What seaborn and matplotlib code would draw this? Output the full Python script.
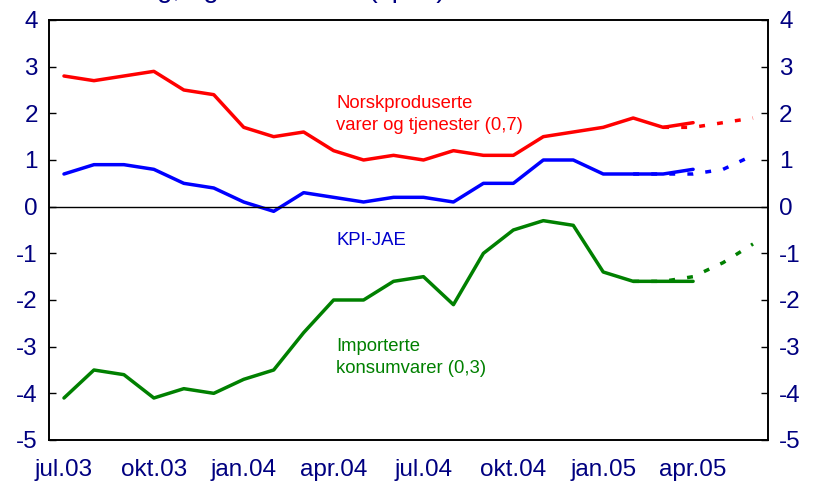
import matplotlib as mpl
mpl.use('Agg')

import matplotlib.pyplot as plt
import seaborn as sns
import numpy as np

sns.set_style("white")
plt.rcParams['font.family'] = ['Liberation Sans', 'DejaVu Sans']
plt.rcParams['axes.unicode_minus'] = False

# months on the category axis (jul.03 - jun.05)
months = ["jul.03", "aug.03", "sep.03", "okt.03", "nov.03", "des.03",
          "jan.04", "feb.04", "mar.04", "apr.04", "mai.04", "jun.04",
          "jul.04", "aug.04", "sep.04", "okt.04", "nov.04", "des.04",
          "jan.05", "feb.05", "mar.05", "apr.05", "mai.05", "jun.05"]
tick_labels = ["jul.03", "okt.03", "jan.04", "apr.04", "jul.04", "okt.04", "jan.05", "apr.05"]

# observed, jul.03 - apr.05
norsk = [2.8, 2.7, 2.8, 2.9, 2.5, 2.4, 1.7, 1.5, 1.6, 1.2, 1.0, 1.1,
         1.0, 1.2, 1.1, 1.1, 1.5, 1.6, 1.7, 1.9, 1.7, 1.8]
kpi_jae = [0.7, 0.9, 0.9, 0.8, 0.5, 0.4, 0.1, -0.1, 0.3, 0.2, 0.1, 0.2,
           0.2, 0.1, 0.5, 0.5, 1.0, 1.0, 0.7, 0.7, 0.7, 0.8]
import_ = [-4.1, -3.5, -3.6, -4.1, -3.9, -4.0, -3.7, -3.5, -2.7, -2.0, -2.0, -1.6,
           -1.5, -2.1, -1.0, -0.5, -0.3, -0.4, -1.4, -1.6, -1.6, -1.6]

# projections (dotted)
norsk_proj_months = ["mar.05", "apr.05", "mai.05", "jun.05"]
norsk_proj = [1.7, 1.7, 1.8, 1.9]
kpi_proj_months = ["feb.05", "mar.05", "apr.05", "mai.05", "jun.05"]
kpi_proj = [0.7, 0.7, 0.7, 0.8, 1.1]
import_proj_months = ["feb.05", "mar.05", "apr.05", "mai.05", "jun.05"]
import_proj = [-1.6, -1.6, -1.5, -1.2, -0.8]

navy = '#000080'
red, blue, green = '#FF0000', '#0000FF', '#008000'

pos = {m: i for i, m in enumerate(months)}

fig = plt.figure(figsize=(8.13, 4.92), dpi=100)
ax = fig.add_axes([49/813, 1 - 440/492, (768 - 49)/813, (440 - 20)/492])

lw = 2.5
dots = (0, (1.7, 3.5))

sns.lineplot(x=[pos[m] for m in months[:len(norsk)]], y=norsk, ax=ax, color=red, linewidth=lw)
sns.lineplot(x=[pos[m] for m in months[:len(kpi_jae)]], y=kpi_jae, ax=ax, color=blue, linewidth=lw)
sns.lineplot(x=[pos[m] for m in months[:len(import_)]], y=import_, ax=ax, color=green, linewidth=lw)
sns.lineplot(x=[pos[m] for m in norsk_proj_months], y=norsk_proj, ax=ax, color=red, linewidth=lw, linestyle=dots)
sns.lineplot(x=[pos[m] for m in kpi_proj_months], y=kpi_proj, ax=ax, color=blue, linewidth=lw, linestyle=dots)
sns.lineplot(x=[pos[m] for m in import_proj_months], y=import_proj, ax=ax, color=green, linewidth=lw, linestyle=dots)

ax.axhline(0, color='black', linewidth=1)

ax.set_xlim(-0.5, len(months) - 0.5)
ax.set_ylim(-5, 4)
ax.set_yticks(range(-5, 5))
ax.tick_params(axis='y', direction='in', length=5, width=1, colors='black',
               labelcolor=navy, labelsize=17.5, pad=8)

# ticks between categories every quarter, labels on the months
ax.set_xticks(np.arange(2.5, len(months) - 1, 3))
ax.set_xticklabels([])
ax.set_xticks([pos[m] for m in tick_labels], minor=True)
ax.set_xticklabels(tick_labels, minor=True)
ax.tick_params(axis='x', which='major', direction='in', length=5, width=1, colors='black')
ax.tick_params(axis='x', which='minor', length=0, labelcolor=navy, labelsize=17.5, pad=14)
ax.set_xlabel("")
ax.set_ylabel("")

ax2 = ax.twinx()
ax2.set_ylim(-5, 4)
ax2.set_yticks(range(-5, 5))
ax2.tick_params(axis='y', direction='in', length=5, width=1, colors='black',
                labelcolor=navy, labelsize=17.5, pad=8)

for a in (ax, ax2):
    for s in a.spines.values():
        s.set_color('black')
        s.set_linewidth(1.2)

# labels (y = baseline of the last line)
ax.text(9.08, 1.64, "Norskproduserte\nvarer og tjenester (0,7)", color=red,
        fontsize=13.3, va='baseline', ha='left', linespacing=1.4)
ax.text(9.08, -0.82, "KPI-JAE", color='#0000CC', fontsize=13.3, va='baseline', ha='left')
ax.text(9.08, -3.57, "Importerte\nkonsumvarer (0,3)", color=green,
        fontsize=13.3, va='baseline', ha='left', linespacing=1.4)

# title line cut off at the top edge
fig.text(77/813, 1 + 3/492, "Endring, og vekst i året (i pst.)", color=navy,
         fontsize=20, va='baseline', ha='left')

plt.savefig("out.png", dpi=100)
